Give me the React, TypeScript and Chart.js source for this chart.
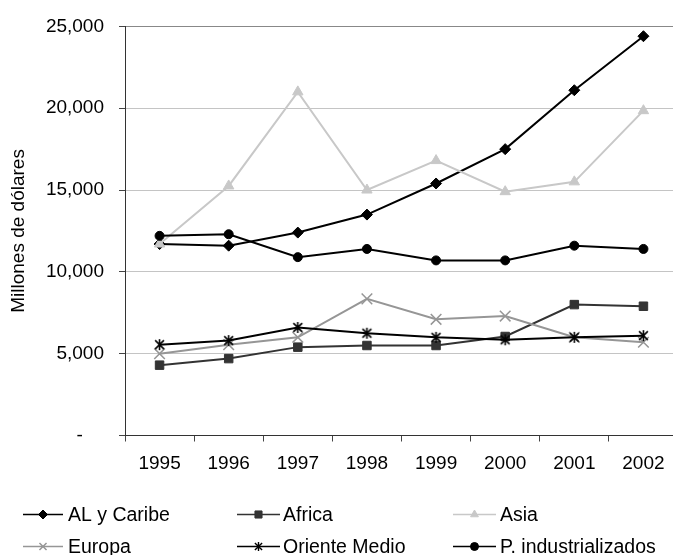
import React, { useEffect, useRef } from 'react';
import { Chart, registerables } from 'chart.js';
import { drawPoint } from 'chart.js/helpers';

Chart.register(...registerables);

const years = ['1995', '1996', '1997', '1998', '1999', '2000', '2001', '2002'];
const alCaribe = [11700, 11600, 12400, 13500, 15400, 17500, 21100, 24400];
const africa = [4300, 4700, 5400, 5500, 5500, 6050, 8000, 7900];
const asia = [11700, 15250, 21000, 15000, 16800, 14900, 15500, 19850];
const europa = [5000, 5550, 6000, 8350, 7100, 7300, 6000, 5700];
const orienteMedio = [5550, 5800, 6600, 6250, 6000, 5850, 6000, 6100];
const pIndustrializados = [12200, 12300, 10900, 11400, 10700, 10700, 11600, 11400];
const seriesLabels = ['AL y Caribe', 'Africa', 'Asia', 'Europa', 'Oriente Medio', 'P. industrializados'];
const yMin = 0;
const yMax = 25000;
const yStep = 5000;
const yTitle = 'Millones de dólares';

const FONT = '"Liberation Sans", Arial, Helvetica, sans-serif';

function makeAsterisk(size: number, lw: number): HTMLCanvasElement {
  const c = document.createElement('canvas');
  c.width = size;
  c.height = size;
  const g = c.getContext('2d')!;
  const m = size / 2;
  const r = size / 2 - 1;
  g.strokeStyle = '#000';
  g.lineWidth = lw;
  g.lineCap = 'butt';
  g.beginPath();
  g.moveTo(m, m - r);
  g.lineTo(m, m + r);
  const d = r * 0.8;
  g.moveTo(m - d, m - d);
  g.lineTo(m + d, m + d);
  g.moveTo(m + d, m - d);
  g.lineTo(m - d, m + d);
  g.stroke();
  return c;
}

const legendPlugin = {
  id: 'xlLegend',
  afterDraw(chart: any) {
    const ctx = chart.ctx as CanvasRenderingContext2D;
    const cols = [
      { x1: 23, x2: 63, tx: 68 },
      { x1: 237, x2: 280, tx: 283 },
      { x1: 453, x2: 496, tx: 500 },
    ];
    const rows = [514.5, 546.5];
    chart.data.datasets.forEach((ds: any, i: number) => {
      const c = cols[i % 3];
      const y = rows[Math.floor(i / 3)];
      ctx.save();
      ctx.strokeStyle = ds.borderColor;
      ctx.lineWidth = 1.6;
      ctx.beginPath();
      ctx.moveTo(c.x1, y);
      ctx.lineTo(c.x2, y);
      ctx.stroke();
      ctx.fillStyle = ds.pointBackgroundColor;
      ctx.strokeStyle = ds.pointBorderColor;
      ctx.lineWidth = ds.pointBorderWidth;
      const style = ds.legendStyle || ds.pointStyle;
      drawPoint(ctx, { pointStyle: style, radius: ds.legendRadius, rotation: 0, borderWidth: ds.pointBorderWidth } as any, (c.x1 + c.x2) / 2, y);
      ctx.fillStyle = '#000';
      ctx.font = '19.5px ' + FONT;
      ctx.textBaseline = 'middle';
      ctx.textAlign = 'left';
      ctx.fillText(ds.label, c.tx, y + 1);
      ctx.restore();
    });
  },
};

export default function App() {
  const ref = useRef<HTMLCanvasElement | null>(null);

  useEffect(() => {
    if (!ref.current) return;
    const ast = makeAsterisk(13, 1.6);
    const astSmall = makeAsterisk(11, 1.4);
    const values = [alCaribe, africa, asia, europa, orienteMedio, pIndustrializados];
    const styles: any[] = [
      { color: '#000000', fill: '#000000', pointStyle: 'rectRot', radius: 5.5, legendRadius: 4.5, bw: 1 },
      { color: '#333333', fill: '#333333', pointStyle: 'rect', radius: 6, legendRadius: 5, bw: 1 },
      { color: '#c8c8c8', fill: '#c8c8c8', pointStyle: 'triangle', radius: 6, legendRadius: 4.5, bw: 1 },
      { color: '#969696', fill: '#969696', pointStyle: 'crossRot', radius: 7.5, legendRadius: 5, bw: 1.5 },
      { color: '#000000', fill: '#000000', pointStyle: ast, legendStyle: astSmall, radius: 6, legendRadius: 5, bw: 1 },
      { color: '#000000', fill: '#000000', pointStyle: 'circle', radius: 4.5, legendRadius: 4, bw: 1 },
    ];
    const datasets = values.map((v, i) => ({
      label: seriesLabels[i],
      data: v,
      borderColor: styles[i].color,
      backgroundColor: styles[i].fill,
      pointBackgroundColor: styles[i].fill,
      pointBorderColor: styles[i].color,
      pointBorderWidth: styles[i].bw,
      pointStyle: styles[i].pointStyle,
      legendStyle: styles[i].legendStyle,
      legendRadius: styles[i].legendRadius,
      pointRadius: styles[i].radius,
      borderWidth: 2,
      tension: 0,
      fill: false,
      order: 6 - i,
    }));

    const chart = new Chart(ref.current, {
      type: 'line',
      data: { labels: years, datasets: datasets as any },
      options: {
        animation: false,
        responsive: false,
        devicePixelRatio: 1,
        layout: { padding: { top: 23, right: 22, left: 0, bottom: 0 } },
        plugins: { legend: { display: false }, tooltip: { enabled: false } },
        font: { family: FONT },
        scales: {
          x: {
            type: 'category',
            offset: true,
            grid: {
              offset: true,
              drawOnChartArea: false,
              drawTicks: true,
              tickLength: 6,
              tickColor: '#444',
            },
            border: { color: '#333', width: 1 },
            ticks: { color: '#000', font: { size: 19, family: FONT }, padding: 11, maxRotation: 0, autoSkip: false },
            afterFit: (s: any) => { s.height = 119.5; },
          },
          y: {
            min: yMin,
            max: yMax,
            grid: {
              color: (c: any) => (c.tick && c.tick.value === yMax ? '#888' : '#c4c4c4'),
              lineWidth: 1,
              drawTicks: true,
              tickLength: 6,
              tickColor: '#444',
            },
            border: { color: '#333', width: 1 },
            ticks: {
              stepSize: yStep,
              color: '#000',
              font: { size: 19, family: FONT },
              padding: 15,
              callback: (v: any) => (Number(v) === 0 ? '-    ' : Number(v).toLocaleString('en-US')),
            },
            title: {
              display: true,
              text: yTitle,
              color: '#000',
              font: { size: 19, family: FONT },
              padding: { top: 7, bottom: 0 },
            },
            afterFit: (s: any) => { s.width = 125; },
          },
        },
      } as any,
      plugins: [legendPlugin],
    });
    return () => chart.destroy();
  }, []);

  return (
    <div style={{ position: 'fixed', left: 0, top: 0, width: 673, height: 555, overflow: 'hidden', background: '#fff' }}>
      <canvas ref={ref} width={700} height={555} style={{ width: 700, height: 555, display: 'block' }} />
    </div>
  );
}
